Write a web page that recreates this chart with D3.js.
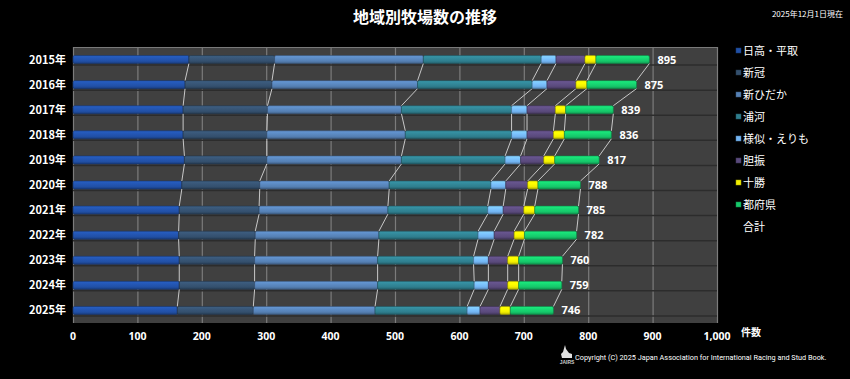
<!DOCTYPE html>
<html><head><meta charset="utf-8">
<script src="https://cdn.jsdelivr.net/npm/d3@7"></script>
<style>html,body{margin:0;padding:0;background:#000;}svg{display:block;}</style>
</head><body>
<svg id="c" width="850" height="379"></svg>
<script>
const years = ["2015年","2016年","2017年","2018年","2019年","2020年","2021年","2022年","2023年","2024年","2025年"];
const seriesNames = ["日高・平取","新冠","新ひだか","浦河","様似・えりも","胆振","十勝","都府県"];
const hidaka   = [180,174,171,171,173,169,165,164,165,165,162];
const niikappu = [133,135,131,130,128,121,124,119,117,117,118];
const shinhidaka=[231,226,208,215,209,201,200,192,191,191,189];
const urakawa  = [183,178,171,165,161,158,155,154,149,150,143];
const samani   = [23,23,24,24,24,23,24,25,23,22,20];
const iburi    = [45,45,44,41,36,34,32,31,30,30,31];
const tokachi  = [17,17,16,17,17,16,17,16,17,17,16];
const tofuken  = [83,77,74,73,69,66,68,81,68,67,67];
const totals   = [895,875,839,836,817,788,785,782,760,759,746];
const xTicks   = [0,100,200,300,400,500,600,700,800,900,1000];
const colors = ["#2150a6","#34506e","#5580b4","#2f7e8e","#72b4f2","#5a4a7c","#f2ee00","#16c76a"];
const seriesVals = [hidaka,niikappu,shinhidaka,urakawa,samani,iburi,tokachi,tofuken];

const svg = d3.select("#c");
const L = 73, R = 717, T = 47, B = 323;
const x = d3.scaleLinear().domain([0,1000]).range([L,R]);
const y = d3.scalePoint().domain(years).range([T,B]).padding(0.5);
const bh = 8;

const defs = svg.append("defs");
colors.forEach((c,i)=>{
  const g = defs.append("linearGradient").attr("id","g"+i).attr("x1",0).attr("x2",0).attr("y1",0).attr("y2",1);
  g.append("stop").attr("offset","0%").attr("stop-color",d3.color(c).brighter(0.5));
  g.append("stop").attr("offset","35%").attr("stop-color",d3.color(c).brighter(0.25));
  g.append("stop").attr("offset","70%").attr("stop-color",d3.color(c));
  g.append("stop").attr("offset","100%").attr("stop-color",d3.color(c).darker(0.8));
});

svg.append("rect").attr("x",L).attr("y",T).attr("width",R-L).attr("height",B-T).attr("fill","#404040");
svg.append("line").attr("x1",L).attr("x2",R).attr("y1",T+0.5).attr("y2",T+0.5).attr("stroke","#7a7a7a");
svg.append("g").selectAll("line").data(xTicks).join("line")
  .attr("x1",d=>x(d)+0.5).attr("x2",d=>x(d)+0.5).attr("y1",T).attr("y2",B)
  .attr("stroke","#7c7c7c").attr("stroke-width",1.2);
svg.append("g").selectAll("line").data(years).join("line")
  .attr("x1",L).attr("x2",R).attr("y1",d=>y(d)+5.5).attr("y2",d=>y(d)+5.5)
  .attr("stroke","#2c2c2c").attr("stroke-width",1.5);

const rows = years.map((yr,i)=>{
  let acc=0; const segs=[];
  seriesVals.forEach((arr,k)=>{ segs.push({k,x0:acc,x1:acc+arr[i]}); acc+=arr[i]; });
  return {yr,segs,total:totals[i]};
});

const conn = svg.append("g");
for(let i=0;i<rows.length-1;i++){
  for(let k=0;k<seriesVals.length;k++){
    const a = rows[i].segs[k].x1, b = rows[i+1].segs[k].x1;
    conn.append("line")
      .attr("x1",x(a)).attr("y1",y(rows[i].yr)+bh/2)
      .attr("x2",x(b)).attr("y2",y(rows[i+1].yr)-bh/2)
      .attr("stroke","#c8c8c8").attr("stroke-width",1);
  }
}

const bars = svg.append("g");
rows.forEach(r=>{
  bars.selectAll(null).data(r.segs).join("rect")
    .attr("x",d=>x(d.x0)).attr("y",y(r.yr)-bh/2)
    .attr("width",d=>x(d.x1)-x(d.x0)).attr("height",bh)
    .attr("rx",1.5)
    .attr("fill",d=>`url(#g${d.k})`)
    .attr("stroke",d=>d3.color(colors[d.k]).darker(1.2)).attr("stroke-width",0.6);
});

svg.append("g").selectAll("text").data(rows).join("text")
  .attr("x",d=>x(d.total)+8).attr("y",d=>y(d.yr)+4)
  .attr("fill","#fff").attr("font-family","'Open Sans','Noto Sans',sans-serif")
  .attr("font-weight","bold").attr("font-size","11px").text(d=>d.total);

svg.append("g").selectAll("text").data(years).join("text")
  .attr("x",66).attr("y",d=>y(d)+4).attr("text-anchor","end")
  .attr("fill","#fff").attr("font-family","'Noto Sans CJK JP',sans-serif")
  .attr("font-weight","bold").attr("font-size","11px").text(d=>d);

svg.append("g").selectAll("text").data(xTicks).join("text")
  .attr("x",d=>x(d)).attr("y",340).attr("text-anchor","middle")
  .attr("fill","#fff").attr("font-family","'Open Sans','Noto Sans',sans-serif")
  .attr("font-weight","bold").attr("font-size","10.5px").text(d=>d3.format(",")(d));
svg.append("text").attr("x",741).attr("y",336).attr("fill","#fff")
  .attr("font-family","'Noto Sans CJK JP',sans-serif").attr("font-weight","bold").attr("font-size","10px").text("件数");

svg.append("text").attr("x",425).attr("y",23).attr("text-anchor","middle").attr("fill","#fff")
  .attr("font-family","'Noto Sans CJK JP',sans-serif").attr("font-weight","bold").attr("font-size","16px").text("地域別牧場数の推移");
svg.append("text").attr("x",843).attr("y",17).attr("text-anchor","end").attr("fill","#fff")
  .attr("font-family","'Noto Sans CJK JP',sans-serif").attr("font-size","8px").text("2025年12月1日現在");

const leg = svg.append("g");
const legItems = seriesNames.concat(["合計"]);
legItems.forEach((n,i)=>{
  const ly = 51 + i*22;
  if(i<colors.length){
    leg.append("rect").attr("x",736).attr("y",ly-3).attr("width",5).attr("height",5)
      .attr("fill",colors[i]).attr("stroke",d3.color(colors[i]).darker(1)).attr("stroke-width",0.5);
  }
  leg.append("text").attr("x",743).attr("y",ly+4).attr("fill","#fff")
    .attr("font-family","'Noto Sans CJK JP',sans-serif").attr("font-size","11px").text(n);
});

const lg = svg.append("g").attr("transform","translate(561,345)");
lg.append("path").attr("d","M4,0 L5,4 L8,8 L11,9 L11,13 L1,13 L0,9 L2,7 Z").attr("fill","#e0e0e0");
lg.append("text").attr("x",6).attr("y",19).attr("text-anchor","middle").attr("fill","#ccc")
  .attr("font-family","sans-serif").attr("font-size","5px").attr("font-weight","bold").text("JAIRS");
svg.append("text").attr("x",575).attr("y",360).attr("fill","#fff")
  .attr("font-family","Roboto,'Open Sans',sans-serif").attr("font-size","7.3px")
  .text("Copyright (C) 2025 Japan Association for International Racing and Stud Book.");
</script>
</body></html>
